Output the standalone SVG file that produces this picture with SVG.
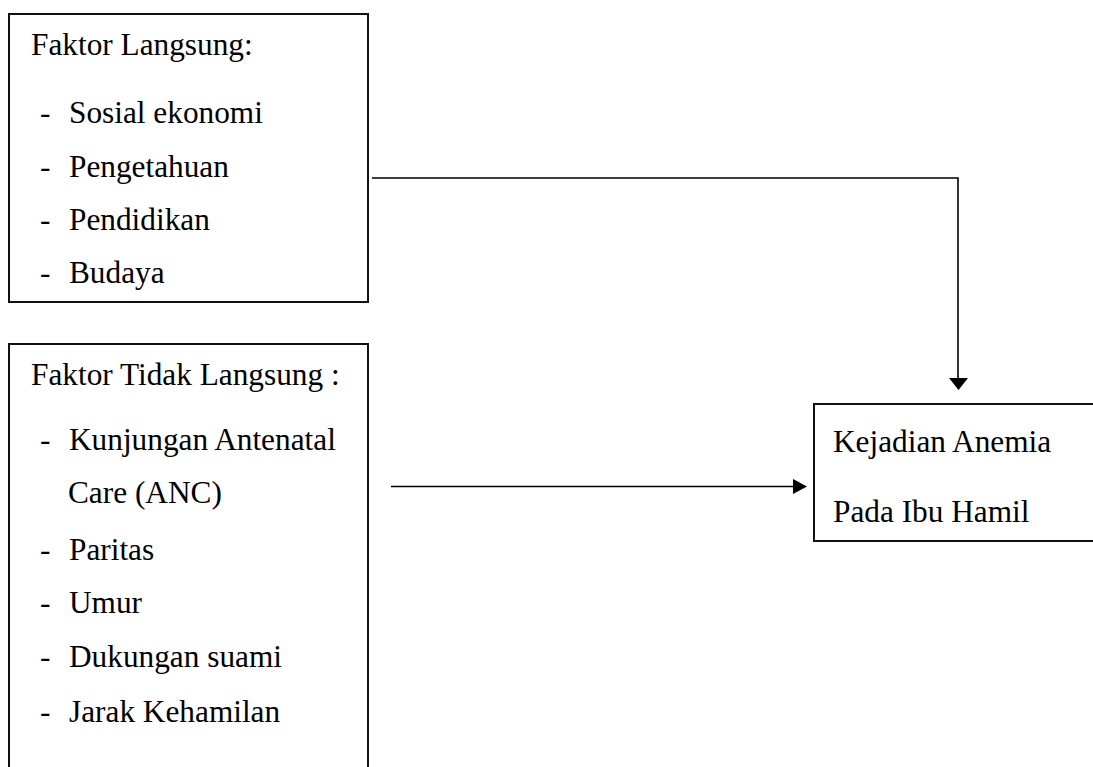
<svg xmlns="http://www.w3.org/2000/svg" width="1093" height="767" viewBox="0 0 1093 767">
<style>
.box{fill:#fff;stroke:#111;stroke-width:2}
.t{font-family:"Liberation Serif","Times New Roman",serif;font-size:31.3px;fill:#000}
.c{fill:none;stroke:#000;stroke-width:1.6}
.ah{fill:#000}
</style>
<rect width="1093" height="767" fill="#fff"/>
<g id="node-langsung">
<rect class="box" x="9" y="14" width="359" height="288"/>
<text class="t" x="31" y="55">Faktor Langsung:</text>
<text class="t" x="40" y="123">-</text><text class="t" x="69" y="123">Sosial ekonomi</text>
<text class="t" x="40" y="177">-</text><text class="t" x="69" y="177">Pengetahuan</text>
<text class="t" x="40" y="230">-</text><text class="t" x="69" y="230">Pendidikan</text>
<text class="t" x="40" y="283">-</text><text class="t" x="69" y="283">Budaya</text>
</g>
<g id="node-tidak-langsung">
<rect class="box" x="9" y="344" width="359" height="440"/>
<text class="t" x="31" y="385">Faktor Tidak Langsung :</text>
<text class="t" x="40" y="450">-</text><text class="t" x="69" y="450">Kunjungan Antenatal</text>
<text class="t" x="68" y="503">Care (ANC)</text>
<text class="t" x="40" y="560">-</text><text class="t" x="69" y="560">Paritas</text>
<text class="t" x="40" y="613">-</text><text class="t" x="69" y="613">Umur</text>
<text class="t" x="40" y="667">-</text><text class="t" x="69" y="667">Dukungan suami</text>
<text class="t" x="40" y="722">-</text><text class="t" x="69" y="722">Jarak Kehamilan</text>
</g>
<g id="node-anemia">
<rect class="box" x="814" y="404" width="300" height="137"/>
<text class="t" x="833" y="452">Kejadian Anemia</text>
<text class="t" x="833" y="522">Pada Ibu Hamil</text>
</g>
<g id="connectors">
<path class="c" d="M372 178 H958 V380"/>
<polygon class="ah" points="949,378 968,378 958.5,390"/>
<path class="c" d="M391 486.5 H796"/>
<polygon class="ah" points="793,479 807,486.5 793,494"/>
</g>
</svg>
